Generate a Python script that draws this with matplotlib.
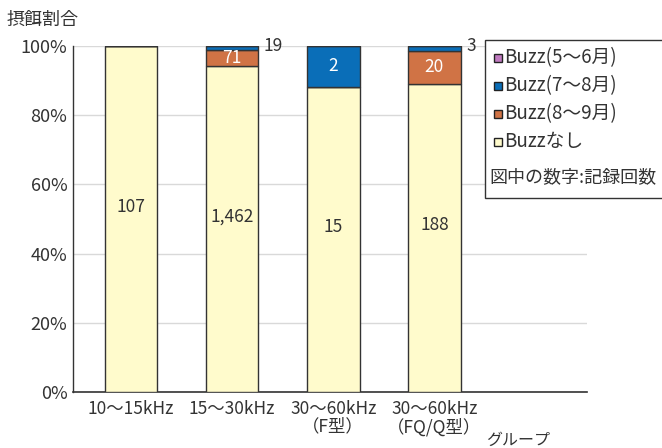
import matplotlib
matplotlib.use("Agg")
import matplotlib.pyplot as plt
from matplotlib.patches import Rectangle
import numpy as np

plt.rcParams['font.family'] = ['Noto Sans CJK JP', 'DejaVu Sans']

categories = ["10〜15kHz", "15〜30kHz", "30〜60kHz\n（F型）", "30〜60kHz\n（FQ/Q型）"]
series_names = ["Buzzなし", "Buzz(8〜9月)", "Buzz(7〜8月)", "Buzz(5〜6月)"]
buzz_none = [107, 1462, 15, 188]
buzz_aug_sep = [0, 71, 0, 20]
buzz_jul_aug = [0, 19, 2, 3]
buzz_may_jun = [0, 0, 0, 0]
colors = ["#FFFBCC", "#D07345", "#0A6EB8", "#C07AC0"]

counts = np.array([buzz_none, buzz_aug_sep, buzz_jul_aug, buzz_may_jun], dtype=float)
totals = counts.sum(axis=0)
pct = counts / totals * 100

W, H = 662, 448
fig = plt.figure(figsize=(W/100, H/100), dpi=100)
ax = fig.add_axes([73/W, 1-392/H, (587-73)/W, (392-46)/H])

x = np.arange(len(categories))
w = 0.52
bottom = np.zeros(len(categories))
for i in range(4):
    ax.bar(x, pct[i], w, bottom=bottom, color=colors[i], edgecolor="#333333", linewidth=1.0, zorder=3)
    for j in range(len(categories)):
        c = counts[i, j]
        if c <= 0:
            continue
        label = f"{int(c):,}"
        if pct[i, j] < 3:
            ax.annotate(label, (x[j] + w/2, bottom[j] + pct[i, j]), xytext=(4, 0),
                        textcoords="offset points", ha="left", va="center",
                        fontsize=12.5, color="#333333", zorder=5)
        else:
            col = "#333333" if i == 0 else "white"
            off = 9 if pct[i, j] > 50 else 0
            ax.annotate(label, (x[j], bottom[j] + pct[i, j]/2), xytext=(0, off),
                        textcoords="offset points", ha="center", va="center",
                        fontsize=12.5, color=col, zorder=5)
    bottom += pct[i]

ax.set_xlim(-0.574, 4.51)
ax.set_ylim(0, 100)
ax.set_yticks(np.arange(0, 101, 20))
ax.set_yticklabels([f"{v}%" for v in range(0, 101, 20)], fontsize=13, color="#333333")
ax.set_xticks(x)
ax.set_xticklabels(categories, fontsize=12.5, color="#333333", linespacing=0.95)
ax.tick_params(axis="x", length=0, pad=6)
ax.tick_params(axis="y", length=0, pad=4)
ax.grid(axis="y", color="#D9D9D9", linewidth=1.0, zorder=0)
for s in ["top", "right"]:
    ax.spines[s].set_visible(False)
ax.spines["left"].set_color("#333333")
ax.spines["bottom"].set_color("#333333")
ax.spines["left"].set_linewidth(1.0)
ax.spines["bottom"].set_linewidth(1.2)

fig.text(7/W, 1-20/H, "摂餌割合", fontsize=13, color="#333333", va="center", ha="left")
fig.text(486/W, 1-440/H, "グループ", fontsize=11.5, color="#333333", va="center", ha="left")

# legend drawn manually (box clipped at right edge like the reference)
fig.patches.append(Rectangle((485/W, 1-198/H), 300/W, 158/H, transform=fig.transFigure,
                             facecolor="white", edgecolor="#333333", linewidth=1.0, zorder=10))
order = [3, 2, 1, 0]
rows_y = [58, 86, 114, 142]
for k, i in enumerate(order):
    yc = rows_y[k]
    fig.patches.append(Rectangle((494/W, 1-(yc+4)/H), 8/W, 8/H, transform=fig.transFigure,
                                 facecolor=colors[i], edgecolor="#222222", linewidth=1.0, zorder=11))
    fig.text(504/W, 1-yc/H, series_names[i], fontsize=13.5, color="#333333", va="center",
             ha="left", zorder=12)
fig.text(489/W, 1-177/H, "図中の数字:記録回数", fontsize=13, color="#333333", va="center",
         ha="left", zorder=12)

fig.savefig("out.png", dpi=100)
